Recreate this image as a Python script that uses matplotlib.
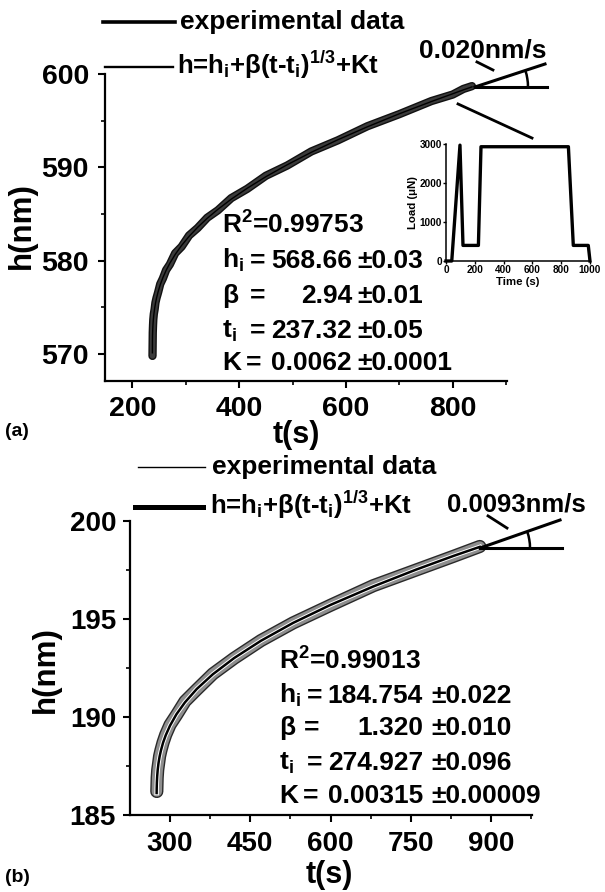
import matplotlib
matplotlib.use("Agg")
import matplotlib.pyplot as plt
from matplotlib.lines import Line2D
from matplotlib.patches import Arc
from matplotlib.transforms import ScaledTranslation
import matplotlib.patheffects as pe
from matplotlib.ticker import MultipleLocator, FixedLocator

plt.rcParams['font.family'] = ['Liberation Sans', 'DejaVu Sans']
plt.rcParams['font.weight'] = 'bold'
plt.rcParams['mathtext.fontset'] = 'custom'
plt.rcParams['mathtext.rm'] = 'Liberation Sans:bold'
plt.rcParams['mathtext.it'] = 'Liberation Sans:bold'
plt.rcParams['mathtext.bf'] = 'Liberation Sans:bold'
plt.rcParams['mathtext.sf'] = 'Liberation Sans:bold'

# ---------------- data ----------------
# panel (a)
exp_a_t = [237.5, 238, 238.5, 239, 240, 241.5, 243, 245, 248, 252, 257, 263, 270, 280, 292, 306, 322, 340,
           360, 385, 415, 450, 490, 535, 585, 640, 700, 760, 800, 820, 836]
exp_a_h = [569.8, 572.3, 573.1, 573.7, 574.3, 574.8, 575.5, 576.0, 576.6, 577.5, 578.1, 579.0, 579.6, 580.8,
           581.5, 582.7, 583.5, 584.6, 585.4, 586.7, 587.7, 589.1, 590.2, 591.7, 592.9, 594.4, 595.7, 597.1,
           597.8, 598.4, 598.7]
fit_a_t = [237.32, 237.4, 237.6, 238, 238.5, 239, 240, 241.5, 243, 245, 248, 252, 257, 263, 270, 280, 292,
           306, 322, 340, 360, 385, 415, 450, 490, 535, 585, 640, 700, 760, 820, 836]
fit_a_h = [570.13, 571.40, 572.06, 572.72, 573.25, 573.64, 574.23, 574.89, 575.41, 575.98, 576.67, 577.42,
           578.19, 578.96, 579.73, 580.67, 581.63, 582.60, 583.57, 584.54, 585.50, 586.59, 587.76, 589.00,
           590.28, 591.61, 592.96, 594.34, 595.74, 597.05, 598.30, 598.62]
sym_a = ["R$^\\mathregular{2}$=0.99753", "h$_\\mathregular{i}$", "β", "t$_\\mathregular{i}$", "K"]
eq_a_x = [None, 250, 250, 250, 246]
vals_a = ["", "568.66", "2.94", "237.32", "0.0062"]
errs_a = ["", "±0.03", "±0.01", "±0.05", "±0.0001"]
slope_a = "0.020nm/s"

# inset: load history
load_t = [0, 40, 97, 118, 225, 243, 850, 884, 988, 1000]
load_v = [0, 0, 2970, 400, 400, 2930, 2930, 400, 400, 0]

# panel (b)
exp_b_t = [275.3, 276, 277, 278.5, 280.5, 283, 287, 292, 300, 312, 328, 350, 380, 420, 470, 530, 600, 680,
           760, 830, 879]
exp_b_h = [186.2, 186.9, 187.3, 187.6, 188.0, 188.3, 188.7, 189.1, 189.6, 190.1, 190.8, 191.4, 192.2, 193.0,
           193.9, 194.8, 195.7, 196.7, 197.5, 198.2, 198.7]
fit_b_t = [274.98, 275.1, 275.4, 276, 277, 278.5, 280.5, 283, 287, 292, 300, 312, 328, 350, 380, 420, 470,
           530, 600, 680, 760, 830, 879]
fit_b_h = [186.12, 186.36, 186.65, 186.97, 187.31, 187.65, 187.98, 188.29, 188.69, 189.07, 189.56, 190.14,
           190.75, 191.43, 192.18, 193.01, 193.89, 194.80, 195.72, 196.66, 197.52, 198.22, 198.68]
sym_b = ["R$^\\mathregular{2}$=0.99013", "h$_\\mathregular{i}$", "β", "t$_\\mathregular{i}$", "K"]
eq_b_x = [None, 307, 304, 307, 303]
vals_b = ["", "184.754", "1.320", "274.927", "0.00315"]
errs_b = ["", "±0.022", "±0.010", "±0.096", "±0.00009"]
slope_b = "0.0093nm/s"

legend_labels = ["experimental data", "h=h$_\\mathregular{i}$+β(t-t$_\\mathregular{i}$)$^{\\mathregular{1/3}}$+Kt"]

W, H = 605, 892
fig = plt.figure(figsize=(W / 100, H / 100), dpi=100)


def fx(x):
    return x / W


def fy(y):
    return 1 - y / H


def rect(l, t, r, b):
    return [fx(l), fy(b), (r - l) / W, (b - t) / H]


def style(ax, lab_size, xpad, ypad):
    for s in ['top', 'right']:
        ax.spines[s].set_visible(False)
    for s in ['left', 'bottom']:
        ax.spines[s].set_linewidth(1.6)
    ax.tick_params(which='major', direction='out', length=5, width=1.5, labelsize=lab_size)
    ax.tick_params(which='minor', direction='out', length=3, width=1.2)
    ax.tick_params(axis='x', pad=xpad)
    ax.tick_params(axis='y', pad=ypad)
    for lab in ax.get_xticklabels() + ax.get_yticklabels():
        lab.set_fontweight('bold')


def angle_arc(ax, x0, y0, r_px, th2):
    tr = fig.dpi_scale_trans + ScaledTranslation(x0, y0, ax.transData)
    d = 2 * r_px / fig.dpi
    ax.add_patch(Arc((0, 0), d, d, theta1=0, theta2=th2, transform=tr,
                     color='black', lw=1.8, clip_on=False))


# ================= panel (a) =================
axa = fig.add_axes(rect(105, 74, 507, 381))
axa.plot(exp_a_t, exp_a_h, color='#3a3a3a', lw=4.0, solid_capstyle='round',
         path_effects=[pe.Stroke(linewidth=6.0, foreground='#111111'), pe.Normal()])
axa.plot(fit_a_t, fit_a_h, color='black', lw=1.0)
axa.set_xlim(148.5, 901.7)
axa.set_ylim(567.11, 600)
axa.xaxis.set_major_locator(FixedLocator([200, 400, 600, 800]))
axa.xaxis.set_minor_locator(MultipleLocator(100))
axa.yaxis.set_major_locator(MultipleLocator(10))
axa.yaxis.set_minor_locator(MultipleLocator(5))
style(axa, 20.5, 6.0, 6.5)

# slope annotation (a)
va_t, va_h = 841.7, 598.61
axa.plot([va_t, 976.6], [va_h, va_h], color='black', lw=2.2, clip_on=False)
axa.plot([va_t, 972.9], [va_h, 601.07], color='black', lw=2.2, clip_on=False)
angle_arc(axa, va_t, va_h, 53, 18)
axa.plot([845.4, 875.4], [601.29, 600.43], color='black', lw=2.0, clip_on=False)
axa.plot([809.9, 948.6], [596.79, 593.14], color='black', lw=2.0, clip_on=False)
axa.text(856.7, 602.57, slope_a, fontsize=19, fontweight='bold', ha='center', va='center', clip_on=False)

# parameters (a)
base_a = [234, 268, 303, 338, 370]
for i in range(5):
    fig.text(fx(222), fy(base_a[i]), sym_a[i], fontsize=19, fontweight='bold', va='baseline', ha='left')
    if vals_a[i]:
        fig.text(fx(eq_a_x[i]), fy(base_a[i]), "=", fontsize=19, fontweight='bold', va='baseline', ha='left')
        fig.text(fx(352), fy(base_a[i]), vals_a[i], fontsize=19, fontweight='bold', va='baseline', ha='right')
        fig.text(fx(357), fy(base_a[i]), errs_a[i], fontsize=19, fontweight='bold', va='baseline', ha='left')

# legend (a)
fig.add_artist(Line2D([fx(103), fx(175)], [fy(22), fy(22)], color='black', lw=2.6))
fig.add_artist(Line2D([fx(105), fx(173)], [fy(67), fy(67)], color='black', lw=1.7))
fig.text(fx(180), fy(22), legend_labels[0], fontsize=19, fontweight='bold', va='center', ha='left')
fig.text(fx(177), fy(74), legend_labels[1], fontsize=18.5, fontweight='bold', va='baseline', ha='left')

# axis labels (a)
fig.text(fx(22), fy(226), "h(nm)", fontsize=22.5, fontweight='bold', rotation=90, ha='center', va='center')
fig.text(fx(296), fy(435), "t(s)", fontsize=22, fontweight='bold', ha='center', va='center')
fig.text(fx(5), fy(431), "(a)", fontsize=14, fontweight='bold', ha='left', va='center')

# inset
axi = fig.add_axes(rect(446, 144, 590, 261))
axi.plot(load_t, load_v, color='black', lw=2.4, clip_on=False)
axi.set_xlim(0, 1000)
axi.set_ylim(0, 3000)
axi.xaxis.set_major_locator(MultipleLocator(200))
axi.yaxis.set_major_locator(MultipleLocator(1000))
for s in ['top', 'right']:
    axi.spines[s].set_visible(False)
for s in ['left', 'bottom']:
    axi.spines[s].set_linewidth(1.1)
axi.tick_params(which='major', direction='out', length=2, width=1, labelsize=7.2, pad=1)
for lab in axi.get_xticklabels() + axi.get_yticklabels():
    lab.set_fontweight('bold')
axi.set_xlabel("Time (s)", fontsize=8.2, fontweight='bold', labelpad=1)
axi.set_ylabel("Load (μN)", fontsize=8.2, fontweight='bold', labelpad=1)

# ================= panel (b) =================
axb = fig.add_axes(rect(130, 521, 532, 815))
axb.plot(exp_b_t, exp_b_h, color='#8e8e8e', lw=7.5, solid_capstyle='round',
         path_effects=[pe.Stroke(linewidth=9.5, foreground='#2a2a2a'), pe.Normal()])
axb.plot(fit_b_t, fit_b_h, color='black', lw=1.8,
         path_effects=[pe.Stroke(linewidth=3.2, foreground='white'), pe.Normal()])
axb.set_xlim(225.2, 976.6)
axb.set_ylim(185, 200)
axb.xaxis.set_major_locator(FixedLocator([300, 450, 600, 750, 900]))
axb.xaxis.set_minor_locator(FixedLocator([375, 525, 675, 825, 975]))
axb.yaxis.set_major_locator(MultipleLocator(5))
axb.yaxis.set_minor_locator(MultipleLocator(2.5))
style(axb, 20, 6.5, 5)

# slope annotation (b)
vb_t, vb_h = 879.4, 198.62
axb.plot([vb_t, 1032.7], [vb_h, vb_h], color='black', lw=2.2, clip_on=False)
axb.plot([vb_t, 1029.0], [vb_h, 200.05], color='black', lw=2.2, clip_on=False)
angle_arc(axb, vb_t, vb_h, 50, 19)
axb.plot([894.4, 929.9], [200.26, 199.64], color='black', lw=2.0, clip_on=False)
axb.text(946.7, 200.82, slope_b, fontsize=18.5, fontweight='bold', ha='center', va='center', clip_on=False)

# parameters (b)
base_b = [670, 703, 735, 770, 803]
for i in range(5):
    fig.text(fx(279), fy(base_b[i]), sym_b[i], fontsize=19, fontweight='bold', va='baseline', ha='left')
    if vals_b[i]:
        fig.text(fx(eq_b_x[i]), fy(base_b[i]), "=", fontsize=19, fontweight='bold', va='baseline', ha='left')
        fig.text(fx(423), fy(base_b[i]), vals_b[i], fontsize=19, fontweight='bold', va='baseline', ha='right')
        fig.text(fx(431), fy(base_b[i]), errs_b[i], fontsize=19, fontweight='bold', va='baseline', ha='left')

# legend (b)
fig.add_artist(Line2D([fx(138), fx(205)], [fy(467), fy(467)], color='black', lw=1.0))
fig.add_artist(Line2D([fx(135), fx(203)], [fy(507), fy(507)], color='black', lw=3.6))
fig.text(fx(212), fy(467), legend_labels[0], fontsize=19, fontweight='bold', va='center', ha='left')
fig.text(fx(210), fy(514), legend_labels[1], fontsize=18.5, fontweight='bold', va='baseline', ha='left')

# axis labels (b)
fig.text(fx(46), fy(670), "h(nm)", fontsize=22.5, fontweight='bold', rotation=90, ha='center', va='center')
fig.text(fx(329), fy(875), "t(s)", fontsize=22, fontweight='bold', ha='center', va='center')
fig.text(fx(5), fy(878), "(b)", fontsize=14, fontweight='bold', ha='left', va='center')

fig.savefig("out.png", dpi=100)
